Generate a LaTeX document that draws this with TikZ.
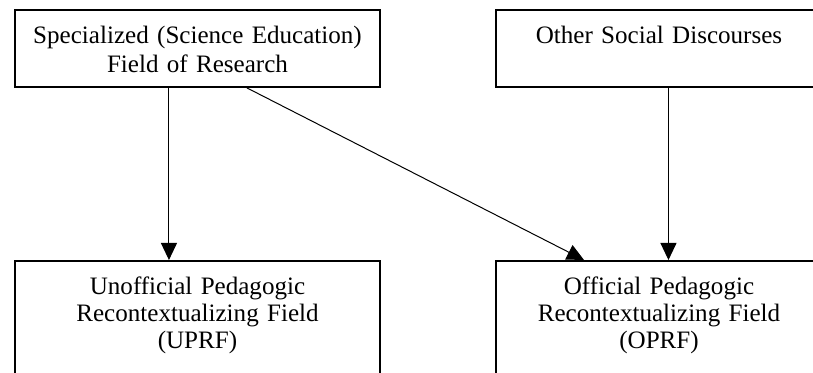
\documentclass[tikz,border=0pt]{standalone}
\usepackage{fontspec}
\setmainfont{Liberation Serif}
\usepackage{tikz}
\usetikzlibrary{arrows.meta}
\tikzset{every picture/.style={line width=0.75pt}}
\tikzset{fieldbox/.style={draw, line width=1.5pt, anchor=north west, align=center, inner xsep=0pt, inner ysep=0pt, text height=25.1pt}}
\tikzset{leftbox/.style={fieldbox, text width=273.75pt}}
\tikzset{rightbox/.style={fieldbox, text width=244.5pt}}
\tikzset{fieldarrow/.style={line width=0.75pt, -{Triangle[length=12.75pt,width=12pt]}}}

\begin{document}
\begin{tikzpicture}[x=0.75pt,y=0.75pt,yscale=-1,xscale=1]
\useasboundingbox (0,0) rectangle (813,373);

%Shape: Rectangle [id:spec]
\node [leftbox, text depth=32.6pt, font=\fontsize{18.8}{21.75}\selectfont] (spec) at (14,9) {Specialized (Science Education)\\Field of Research};
%Shape: Rectangle [id:other]
\node [rightbox, text depth=32.6pt, font=\fontsize{18.8}{21.75}\selectfont] (other) at (495,9) {Other Social Discourses};
%Shape: Rectangle [id:uprf]
\node [leftbox, text depth=76.5pt, font=\fontsize{18.8}{20.25}\selectfont] (uprf) at (14,260) {Unofficial Pedagogic\\Recontextualizing Field\\(UPRF)};
%Shape: Rectangle [id:oprf]
\node [rightbox, text depth=76.5pt, font=\fontsize{18.8}{20.25}\selectfont] (oprf) at (495,260) {Official Pedagogic\\Recontextualizing Field\\(OPRF)};

%Straight Lines
\draw [fieldarrow] ([xshift=-21.4pt]spec.south) -- ([xshift=-21.4pt]uprf.north);
\draw [fieldarrow] ([xshift=37.1pt]spec.south) -- ([xshift=-56.25pt]oprf.north);
\draw [fieldarrow] ([xshift=7.1pt]other.south) -- ([xshift=7.1pt]oprf.north);

\end{tikzpicture}
\end{document}
